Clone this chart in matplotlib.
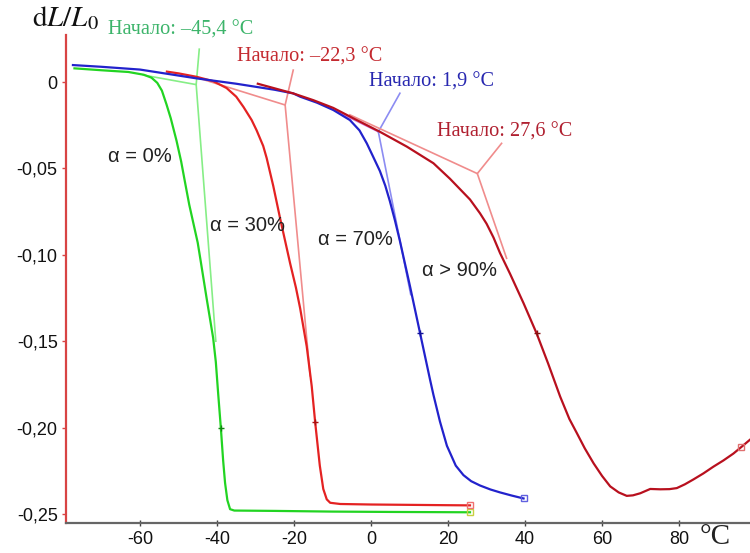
import matplotlib
matplotlib.use("Agg")
import matplotlib.pyplot as plt

# dilatometer curves: temperature (°C) vs dL/L0
green_t = [-77, -70, -63, -59, -57, -55.5, -54.3, -53.1, -52, -50.5, -49.3, -48.3, -47.2, -46.1, -45,
           -44.2, -42.7, -41, -40.3, -39.7, -39, -38.4, -37.9, -37.3, -36.6, -35.5, -25, -10, 5, 25.7]
green_v = [0.0079, 0.0068, 0.0058, 0.0042, 0.0025, -0.0005, -0.005, -0.013, -0.021, -0.034, -0.046,
           -0.058, -0.071, -0.082, -0.093, -0.104, -0.125, -0.148, -0.162, -0.180, -0.200, -0.219,
           -0.232, -0.242, -0.2472, -0.2480, -0.2482, -0.2486, -0.2488, -0.2490]

red_t = [-53, -50, -45.3, -41, -37.5, -35, -33.1, -31, -29.7, -28, -27.1, -25.4, -23.6, -22.3, -21,
         -19.5, -18.4, -16.7, -15.4, -14.5, -13.3, -12.4, -11.5, -10.6, -8, 0, 10, 20, 25.7]
red_v = [0.006, 0.005, 0.003, 0.0005, -0.0035, -0.0085, -0.0145, -0.022, -0.028, -0.037, -0.044,
         -0.060, -0.079, -0.092, -0.105, -0.119, -0.131, -0.153, -0.176, -0.197, -0.222, -0.2355,
         -0.2415, -0.2435, -0.2442, -0.2445, -0.2447, -0.2449, -0.2450]

blue_t = [-77.4, -70, -60, -45.3, -35, -25, -20.2, -18.4, -14, -9.8, -5.5, -3, -1.1, 0.5, 2.3, 3.7,
          4.9, 6.2, 7.5, 8.4, 10.1, 12.7, 15.3, 16.2, 17.9, 19.7, 22, 24, 26, 28.3, 31, 33.5, 36.5, 39.6]
blue_v = [0.0098, 0.0088, 0.0072, 0.0021, -0.001, -0.0045, -0.0066, -0.0085, -0.012, -0.0162, -0.022,
          -0.028, -0.0355, -0.043, -0.0515, -0.060, -0.069, -0.080, -0.092, -0.101, -0.118, -0.145,
          -0.172, -0.181, -0.1965, -0.2105, -0.222, -0.2275, -0.231, -0.2335, -0.2358, -0.2375,
          -0.2393, -0.241]

dred_t = [-29.4, -20.2, -15, -9.8, -4.6, 2.3, 9.3, 16.2, 20.5, 23.1, 25.7, 28.3, 30, 31.8, 33.5, 36.1,
          39.6, 43, 46, 49.1, 51.5, 53.4, 55.5, 57.8, 60, 62.1, 64.3, 66.4, 68, 69.9, 72.5, 75.1,
          77.5, 79.4, 81.5, 83.7, 86.3, 88.9, 91.5, 94.1, 96, 98.4]
dred_v = [-0.001, -0.0066, -0.0105, -0.015, -0.021, -0.0288, -0.0374, -0.047, -0.056, -0.062, -0.068,
          -0.076, -0.082, -0.090, -0.099, -0.111, -0.128, -0.1455, -0.163, -0.182, -0.195, -0.203,
          -0.212, -0.2207, -0.228, -0.234, -0.2375, -0.2395, -0.2392, -0.238, -0.2355, -0.2357,
          -0.2356, -0.235, -0.2328, -0.230, -0.2265, -0.2226, -0.219, -0.215, -0.2115, -0.207]

# onset construction lines: baseline end, onset, leader top; then steep tangent
green_tan_t = [-59.1, -45.4, -44.6]
green_tan_v = [0.004, -0.0015, 0.019]
green_steep_t = [-45.4, -40.3]
green_steep_v = [-0.0015, -0.150]

red_tan_t = [-44.4, -22.3, -20.2]
red_tan_v = [0.002, -0.0133, 0.0069]
red_steep_t = [-22.3, -15.8]
red_steep_v = [-0.0133, -0.170]

blue_tan_t = [-13.2, 1.9, 7.5]
blue_tan_v = [-0.0123, -0.0288, -0.0065]
blue_steep_t = [1.9, 10.3]
blue_steep_v = [-0.0288, -0.123]

dred_tan_t = [-5.5, 27.6, 33.9]
dred_tan_v = [-0.019, -0.053, -0.0355]
dred_steep_t = [27.6, 35.2]
dred_steep_v = [-0.053, -0.102]

x_ticks = [-60, -40, -20, 0, 20, 40, 60, 80]
y_ticks = [0, -0.05, -0.10, -0.15, -0.20, -0.25]
y_labels = ["0", "-0,05", "-0,10", "-0,15", "-0,20", "-0,25"]

fig = plt.figure(figsize=(7.5, 5.53), dpi=100)
ax = fig.add_axes([66 / 750, 1 - 523 / 553, 1 - 66 / 750, 488 / 553])
ax.set_xlim(-79.2, 98.4)
ax.set_ylim(-0.2552, 0.0272)

# construction lines first, curves on top
ax.plot(green_tan_t, green_tan_v, color="#86ee86", lw=1.2)
ax.plot(green_steep_t, green_steep_v, color="#86ee86", lw=1.2)
ax.plot(red_tan_t, red_tan_v, color="#f08c8c", lw=1.2)
ax.plot(red_steep_t, red_steep_v, color="#f08c8c", lw=1.2)
ax.plot(blue_tan_t[:2], blue_tan_v[:2], color="#d080e0", lw=1.2)
ax.plot(blue_tan_t[1:], blue_tan_v[1:], color="#8c8cf2", lw=1.2)
ax.plot(blue_steep_t, blue_steep_v, color="#8c8cf2", lw=1.2)
ax.plot(dred_tan_t, dred_tan_v, color="#f08c8c", lw=1.2)
ax.plot(dred_steep_t, dred_steep_v, color="#f08c8c", lw=1.2)

ax.plot(green_t, green_v, color="#22d422", lw=1.6)
ax.plot(red_t, red_v, color="#e42222", lw=1.6)
ax.plot(blue_t, blue_v, color="#2222cc", lw=1.6)
ax.plot(dred_t, dred_v, color="#b8101e", lw=1.6)

# cursor marks and end squares
ax.plot(green_t, green_v, ls="none", marker="+", ms=5, color="#118811", markevery=[20])
ax.plot(red_t, red_v, ls="none", marker="+", ms=5, color="#aa1111", markevery=[19])
ax.plot(blue_t, blue_v, ls="none", marker="+", ms=5, color="#111199", markevery=[21])
ax.plot(dred_t, dred_v, ls="none", marker="+", ms=5, color="#881111", markevery=[17])
ax.plot(green_t[-1:], green_v[-1:], ls="none", marker="s", ms=4, mfc="none", mec="#c8d040")
ax.plot(red_t[-1:], red_v[-1:], ls="none", marker="s", ms=4, mfc="none", mec="#f07070")
ax.plot(blue_t[-1:], blue_v[-1:], ls="none", marker="s", ms=4, mfc="none", mec="#6060e0")
ax.plot(dred_t[-2:-1], dred_v[-2:-1], ls="none", marker="s", ms=4, mfc="none", mec="#e07070")

serif = "Liberation Serif"
ax.text(-68.3, 0.0301, "Начало: –45,4 °C", color="#3cb46a", family=serif, fontsize=14.6, va="center")
ax.text(-34.8, 0.0145, "Начало: –22,3 °C", color="#c42a30", family=serif, fontsize=14.6, va="center")
ax.text(-0.5, 0.0000, "Начало: 1,9 °C", color="#2828b0", family=serif, fontsize=14.6, va="center")
ax.text(17.1, -0.029, "Начало: 27,6 °C", color="#b02030", family=serif, fontsize=14.6, va="center")

sans = "Liberation Sans"
ax.text(-68.3, -0.0434, "α = 0%", color="#222222", family=sans, fontsize=14.5, va="center")
ax.text(-41.8, -0.0833, "α = 30%", color="#222222", family=sans, fontsize=14.5, va="center")
ax.text(-13.8, -0.0914, "α = 70%", color="#222222", family=sans, fontsize=14.5, va="center")
ax.text(13.2, -0.1088, "α > 90%", color="#222222", family=sans, fontsize=14.5, va="center")

plt.rcParams["mathtext.fontset"] = "stix"
fig.text(32 / 750, 1 - 18 / 553, r"$\mathrm{d}L/L_0$", fontsize=21, va="center", color="#111111")
fig.text(700 / 750, 1 - 537 / 553, "°C", family=serif, fontsize=21, va="center", color="#222222")

ax.set_xticks(x_ticks)
ax.set_xticklabels([str(t) for t in x_ticks])
ax.set_yticks(y_ticks)
ax.set_yticklabels(y_labels)
for lab in ax.get_xticklabels() + ax.get_yticklabels():
    lab.set_family(sans)
    lab.set_fontsize(13)
    lab.set_color("#111111")

ax.spines["top"].set_visible(False)
ax.spines["right"].set_visible(False)
ax.spines["left"].set_color("#d84444")
ax.spines["left"].set_linewidth(1.6)
ax.spines["bottom"].set_color("#666666")
ax.spines["bottom"].set_linewidth(1.6)
ax.tick_params(axis="y", colors="#d84444", length=3, width=1, labelcolor="#111111", pad=3)
ax.tick_params(axis="x", colors="#444444", direction="inout", length=4, width=1,
               labelcolor="#111111", pad=4)

fig.savefig("out.png", dpi=100)
